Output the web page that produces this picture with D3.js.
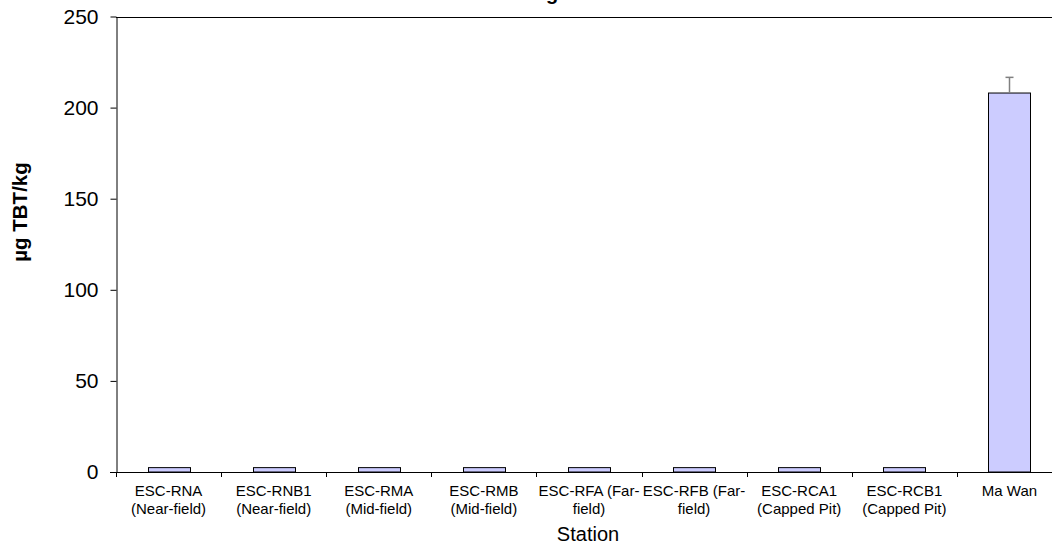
<!DOCTYPE html>
<html>
<head>
<meta charset="utf-8">
<script src="https://cdn.jsdelivr.net/npm/d3@7"></script>
<style>
  html, body { margin: 0; padding: 0; background: #fff; }
  svg { display: block; font-family: "Liberation Sans", Arial, sans-serif; }
</style>
</head>
<body>
<svg id="chart" width="1052" height="548"></svg>
<script>
const stations = [
  ["ESC-RNA", "(Near-field)"],
  ["ESC-RNB1", "(Near-field)"],
  ["ESC-RMA", "(Mid-field)"],
  ["ESC-RMB", "(Mid-field)"],
  ["ESC-RFA (Far-", "field)"],
  ["ESC-RFB (Far-", "field)"],
  ["ESC-RCA1", "(Capped Pit)"],
  ["ESC-RCB1", "(Capped Pit)"],
  ["Ma Wan", ""]
];
const values = [2.4, 2.4, 2.4, 2.4, 2.4, 2.4, 2.4, 2.4, 208];
const errors = [0, 0, 0, 0, 0, 0, 0, 0, 8.6];
const yTicks = [0, 50, 100, 150, 200, 250];

(function () {
const svg = d3.select("#chart");
const pLeft = 116, pRight = 1062, pTop = 16.5, pBottom = 472;

const ids = stations.map((d, i) => i);
const x = d3.scaleBand().domain(ids).range([pLeft, pRight]).paddingInner(0).paddingOuter(0);
const y = d3.scaleLinear().domain([0, 250]).range([pBottom, pTop]);
const barW = x.bandwidth() * 0.4;

// top border line
svg.append("line")
  .attr("x1", pLeft).attr("x2", 1052)
  .attr("y1", Math.round(y(250)) + 0.5).attr("y2", Math.round(y(250)) + 0.5)
  .attr("stroke", "#000").attr("stroke-width", 1);

// bars
svg.append("g").selectAll("rect").data(values).join("rect")
  .attr("x", (d, i) => Math.round(x(i) + (x.bandwidth() - barW) / 2) + 0.5)
  .attr("y", d => y(d))
  .attr("width", Math.round(barW))
  .attr("height", d => pBottom - y(d))
  .attr("fill", "#ccccff")
  .attr("stroke", "#000").attr("stroke-width", 1);

// error bars
const eg = svg.append("g");
values.forEach((v, i) => {
  if (!errors[i]) return;
  const cx = Math.round(x(i) + x.bandwidth() / 2) + 0.5;
  eg.append("line").attr("x1", cx).attr("x2", cx)
    .attr("y1", y(v)).attr("y2", y(v + errors[i]))
    .attr("stroke", "#808080").attr("stroke-width", 1.5);
  eg.append("line").attr("x1", cx - 4).attr("x2", cx + 4)
    .attr("y1", y(v + errors[i])).attr("y2", y(v + errors[i]))
    .attr("stroke", "#808080").attr("stroke-width", 1.5);
});

// y axis
const yAxis = svg.append("g")
  .attr("transform", `translate(${pLeft + 0.5},0)`)
  .call(d3.axisLeft(y).tickValues(yTicks).tickSize(6).tickSizeOuter(0).tickPadding(12));
yAxis.select(".domain").attr("stroke", "#000");
yAxis.selectAll(".tick line").attr("stroke", "#000");
yAxis.selectAll(".tick text")
  .attr("font-size", 21).attr("fill", "#000")
  .attr("font-family", "Liberation Sans, Arial, sans-serif");

// x axis line
svg.append("line")
  .attr("x1", pLeft - 6).attr("x2", 1052)
  .attr("y1", pBottom + 0.5).attr("y2", pBottom + 0.5)
  .attr("stroke", "#000").attr("stroke-width", 1);

// x ticks at band boundaries
const bounds = ids.map(i => x(i)).concat([x(ids.length - 1) + x.bandwidth()]);
svg.append("g").selectAll("line").data(bounds).join("line")
  .attr("x1", d => Math.round(d) + 0.5).attr("x2", d => Math.round(d) + 0.5)
  .attr("y1", pBottom).attr("y2", pBottom + 5)
  .attr("stroke", "#000");

// x labels
const lg = svg.append("g").attr("font-size", 15).attr("fill", "#000").attr("text-anchor", "middle");
stations.forEach((s, i) => {
  const cx = x(i) + x.bandwidth() / 2;
  lg.append("text").attr("x", cx).attr("y", 496).text(s[0]);
  if (s[1]) lg.append("text").attr("x", cx).attr("y", 514).text(s[1]);
});

// x title
svg.append("text").attr("x", 588).attr("y", 541)
  .attr("text-anchor", "middle").attr("font-size", 20).attr("fill", "#000")
  .text("Station");

// y title
svg.append("text")
  .attr("transform", "translate(27,212) rotate(-90)")
  .attr("text-anchor", "middle").attr("font-size", 20.5).attr("font-weight", "bold").attr("fill", "#000")
  .text("µg TBT/kg");

// chart title (mostly cut off above the top edge, as in the reference)
svg.append("text").attr("x", 552).attr("y", 0)
  .attr("text-anchor", "middle").attr("font-size", 20).attr("font-weight", "bold").attr("fill", "#000")
  .text("g");
})();
</script>
</body>
</html>
